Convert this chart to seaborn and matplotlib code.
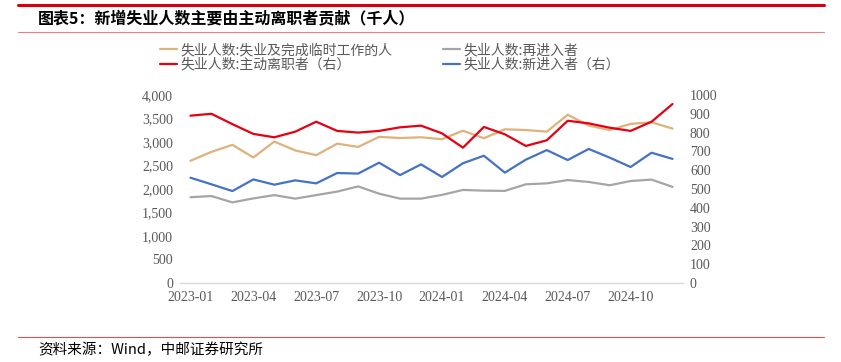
import matplotlib
matplotlib.use("Agg")
import matplotlib.pyplot as plt
import numpy as np
import pandas as pd
import seaborn as sns
from matplotlib.lines import Line2D
from matplotlib.ticker import FuncFormatter, MultipleLocator

# 月份（类别轴）
MONTHS = [f"{y}-{m:02d}" for y in (2023, 2024) for m in range(1, 13)]

# 左轴（千人）
FINISHED_TEMP = [2600, 2790, 2940, 2670, 3010, 2820, 2720, 2965, 2895, 3110, 3085, 3100,
                 3060, 3240, 3080, 3270, 3255, 3220, 3580, 3350, 3255, 3385, 3420, 3285]
REENTRANTS = [1825, 1850, 1715, 1800, 1870, 1795, 1870, 1945, 2055, 1900, 1795, 1795,
              1875, 1980, 1965, 1960, 2100, 2120, 2190, 2150, 2080, 2170, 2200, 2045]
# 右轴（千人）
JOB_LEAVERS = [890, 900, 845, 793, 775, 805, 858, 809, 800, 809, 828, 837,
               796, 720, 830, 791, 729, 759, 863, 849, 826, 809, 858, 952]
NEW_ENTRANTS = [560, 525, 489, 551, 523, 546, 530, 585, 582, 640, 574, 631,
                564, 637, 677, 587, 656, 707, 654, 713, 667, 617, 693, 660]

LABELS = ["失业人数:失业及完成临时工作的人", "失业人数:主动离职者（右）",
          "失业人数:再进入者", "失业人数:新进入者（右）"]
COLORS = ["#DDB27C", "#E60012", "#A5A5A5", "#4472C4"]

TICK_COLOR = "#595959"
SERIF = "Liberation Serif"
CJK = ["Noto Sans CJK SC", "DejaVu Sans"]

sns.set_theme(style="white")
plt.rcParams["font.family"] = CJK

df = pd.DataFrame({
    "pos": np.arange(len(MONTHS)),
    "month": MONTHS,
    "tan": FINISHED_TEMP,
    "gray": REENTRANTS,
    "red": JOB_LEAVERS,
    "blue": NEW_ENTRANTS,
})

fig = plt.figure(figsize=(8.41, 3.62), dpi=100)
ax = fig.add_axes([180 / 841, 1 - 283 / 362, (683 - 180) / 841, (283 - 95) / 362])
ax2 = ax.twinx()

lw = 1.6
sns.lineplot(df, x="pos", y="tan", ax=ax, color=COLORS[0], linewidth=lw)
sns.lineplot(df, x="pos", y="gray", ax=ax, color=COLORS[2], linewidth=lw)
sns.lineplot(df, x="pos", y="blue", ax=ax2, color=COLORS[3], linewidth=lw)
sns.lineplot(df, x="pos", y="red", ax=ax2, color=COLORS[1], linewidth=lw)

ax.set_xlim(-0.5, len(MONTHS) - 0.5)
ax.set_ylim(0, 4000)
ax2.set_ylim(0, 1000)
ax.yaxis.set_major_locator(MultipleLocator(500))
ax2.yaxis.set_major_locator(MultipleLocator(100))
ax.yaxis.set_major_formatter(FuncFormatter(lambda v, _: f"{int(v):,}"))

ax.set_xticks(df["pos"][::3])
ax.set_xticklabels(df["month"][::3])
ax.set_xticks(np.arange(2.5, len(MONTHS) - 1, 3), minor=True)

for a in (ax, ax2):
    a.set_xlabel("")
    a.set_ylabel("")
    for s in a.spines.values():
        s.set_visible(False)
    a.grid(False)
ax.spines["bottom"].set_visible(True)
ax.spines["bottom"].set_color("#D9D9D9")
ax.spines["bottom"].set_linewidth(1.0)

ax.tick_params(axis="x", which="major", length=0, pad=6, labelsize=10, labelcolor=TICK_COLOR)
ax.tick_params(axis="x", which="minor", length=4, width=0.8, color="#D9D9D9", direction="in")
ax.tick_params(axis="y", length=0, pad=5, labelsize=10, labelcolor=TICK_COLOR)
ax2.tick_params(axis="y", length=0, pad=5, labelsize=10, labelcolor=TICK_COLOR)
for lab in ax.get_xticklabels() + ax.get_yticklabels() + ax2.get_yticklabels():
    lab.set_fontfamily(SERIF)

# 图例：两列分开放置
handles = [Line2D([], [], color=c, linewidth=lw) for c in COLORS]
leg_kw = dict(frameon=False, fontsize=10, handlelength=1.2, handletextpad=0.3,
              labelspacing=0.05, borderpad=0, borderaxespad=0, loc="upper left",
              labelcolor=TICK_COLOR)
fig.legend(handles[:2], LABELS[:2], bbox_to_anchor=(160 / 841, 1 - 43 / 362), **leg_kw)
fig.legend(handles[2:], LABELS[2:], bbox_to_anchor=(443 / 841, 1 - 43 / 362), **leg_kw)

# 标题与来源
fig.text(38 / 841, 1 - 18 / 362, "图表5：新增失业人数主要由主动离职者贡献（千人）",
         fontsize=11.5, fontweight="bold", color="#000000", va="center", ha="left")
fig.text(38 / 841, 1 - 350 / 362, "资料来源：Wind，中邮证券研究所",
         fontsize=10.5, color="#000000", va="center", ha="left")

fig.add_artist(Line2D([18 / 841, 824 / 841], [1 - 5 / 362] * 2, color="#D7000F", linewidth=2.2))
fig.add_artist(Line2D([18 / 841, 824 / 841], [1 - 32 / 362] * 2, color="#E88080", linewidth=0.8))
fig.add_artist(Line2D([18 / 841, 824 / 841], [1 - 337 / 362] * 2, color="#E05050", linewidth=0.8))

fig.savefig("out.png", dpi=100)
